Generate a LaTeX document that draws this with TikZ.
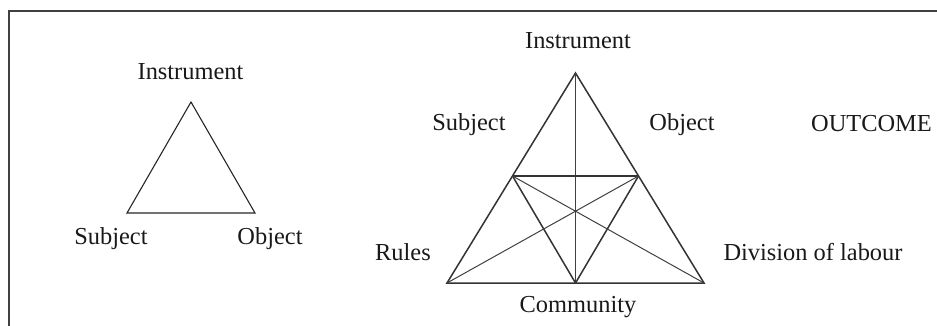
\documentclass[tikz,border=0pt]{standalone}
\usepackage{fontspec}
\setmainfont{Liberation Serif}
\usepackage{tikz}

\begin{document}
\begin{tikzpicture}[x=0.5pt,y=-0.5pt,
  every node/.style={font=\fontsize{12.2}{14}\selectfont, inner sep=0pt, text=black!90},
  side/.style={line width=0.75pt, draw=black!80},
  inner/.style={line width=0.5pt, draw=black!75}]

\useasboundingbox (0,0) rectangle (937,326);

%% frame
\draw[line width=0.8pt, black!75] (9,330) -- (9,11) -- (940,11);

%% small triangle vertices
\coordinate (si) at (191,102);    %% instrument
\coordinate (ss) at (127,213);    %% subject
\coordinate (so) at (255,213);    %% object

%% large triangle vertices
\coordinate (i) at (575.5,73);    %% instrument
\coordinate (r) at (447,283);     %% rules
\coordinate (d) at (704,283);     %% division of labour
\coordinate (c) at (575.5,283);   %% community
\coordinate (s) at (512.5,176);   %% subject
\coordinate (o) at (638.5,176);   %% object

%% small triangle labels
\node (lsi) at (190.5,71.5) {Instrument};
\node (lss) at (111,238.5) {Subject};
\node (lso) at (270,238.5) {Object};

%% large triangle labels
\node (li) at (578,41) {Instrument};
\node (ls) at (469,124.5) {Subject};
\node (lo) at (682,124.5) {Object};
\node (lout) at (871.5,123.5) {OUTCOME};
\node (lr) at (403,252.5) {Rules};
\node (ld) at (813,252.5) {Division of labour};
\node (lc) at (578,307) {Community};

%%% edges
\draw[line width=0.55pt, black!85] (si) -- (ss) -- (so) -- cycle;   %% small triangle
\draw[side] (i) -- (r) -- (d) -- cycle;   %% ird
\draw[inner, line width=0.6pt] (i) -- (c);   %% ic
\draw[side] (s) -- (o);   %% so
\draw[side] (s) -- (c);   %% sc
\draw[side] (o) -- (c);   %% oc
\draw[inner] (r) -- (o);   %% ro
\draw[inner] (d) -- (s);   %% ds
\end{tikzpicture}
\end{document}
